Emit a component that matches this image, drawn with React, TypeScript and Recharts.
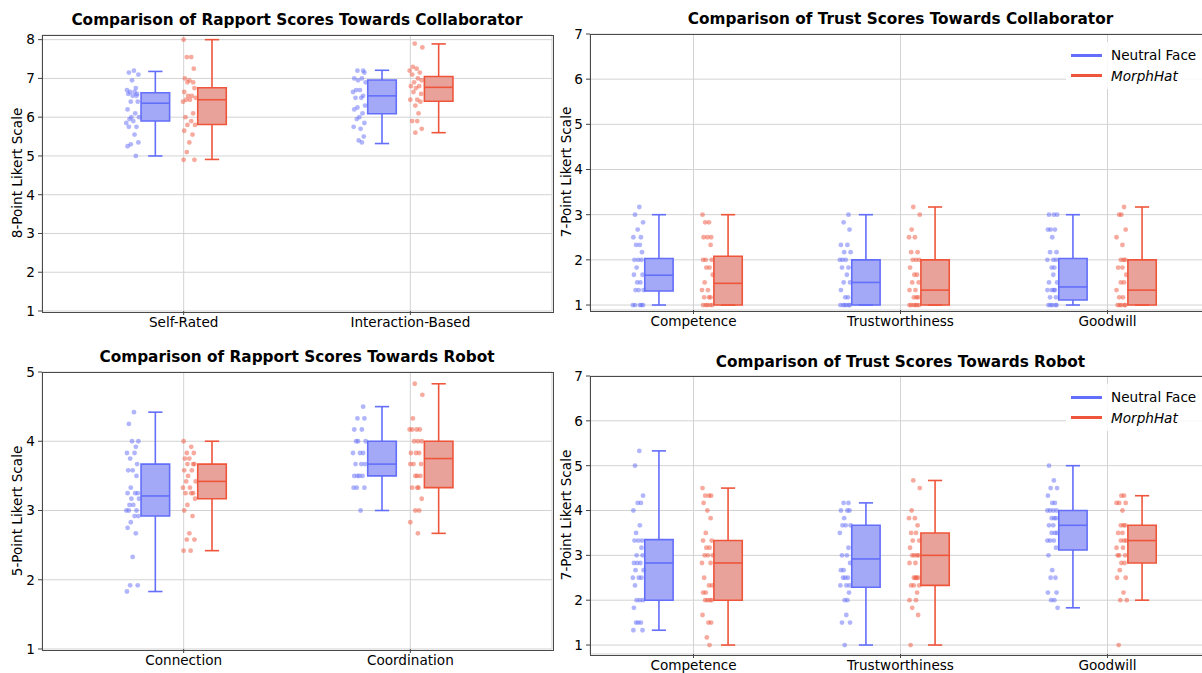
import React from "react";
import {
  ComposedChart,
  Scatter,
  XAxis,
  YAxis,
  CartesianGrid,
  ReferenceArea,
  ReferenceLine,
} from "recharts";

// categories
const rapportCollabCats = ["Self-Rated", "Interaction-Based"];
const rapportRobotCats = ["Connection", "Coordination"];
const trustCats = ["Competence", "Trustworthiness", "Goodwill"];

// y ticks
const ticks8 = [1, 2, 3, 4, 5, 6, 7, 8];
const ticks7 = [1, 2, 3, 4, 5, 6, 7];
const ticks5 = [1, 2, 3, 4, 5];

// box stats per category: [low whisker, q1, median, q3, high whisker]
const rcNeutralBox = [[5.0, 5.9, 6.36, 6.63, 7.18], [5.32, 6.09, 6.55, 6.96, 7.21]];
const rcMorphBox = [[4.91, 5.81, 6.45, 6.76, 8.0], [5.6, 6.41, 6.77, 7.05, 7.89]];
const tcNeutralBox = [[1, 1.31, 1.66, 2.03, 3], [1, 1, 1.5, 2, 3], [1, 1.11, 1.4, 2.03, 3]];
const tcMorphBox = [[1, 1, 1.48, 2.08, 3], [1, 1, 1.33, 2, 3.17], [1, 1, 1.33, 2, 3.17]];
const rrNeutralBox = [[1.83, 2.92, 3.21, 3.67, 4.42], [3.0, 3.5, 3.67, 4.0, 4.5]];
const rrMorphBox = [[2.42, 3.17, 3.42, 3.67, 4.0], [2.67, 3.33, 3.75, 4.0, 4.83]];
const trNeutralBox = [[1.33, 2.0, 2.83, 3.35, 5.33], [1.0, 2.29, 2.92, 3.67, 4.17], [1.83, 3.12, 3.67, 4.0, 5.0]];
const trMorphBox = [[1.0, 2.0, 2.83, 3.33, 4.5], [1.0, 2.33, 3.0, 3.5, 4.67], [2.0, 2.83, 3.33, 3.67, 4.33]];

// individual scores
const rcNeutralPts = [
  [7.2, 7.15, 7.1, 6.95, 6.75, 6.7, 6.65, 6.65, 6.6, 6.6, 6.55, 6.55, 6.4, 6.4, 6.2, 6.1, 6.0, 6.0, 5.95, 5.9, 5.85, 5.75, 5.75, 5.55, 5.35, 5.3, 5.25, 5.0],
  [7.2, 7.2, 7.15, 7.0, 7.0, 6.95, 6.9, 6.7, 6.7, 6.65, 6.55, 6.5, 6.5, 6.3, 6.25, 6.2, 6.1, 6.0, 5.95, 5.85, 5.75, 5.7, 5.5, 5.4, 5.35],
];
const rcMorphPts = [
  [8.0, 7.55, 7.55, 7.25, 7.0, 6.95, 6.9, 6.9, 6.75, 6.65, 6.55, 6.55, 6.5, 6.45, 6.45, 6.4, 6.1, 6.0, 5.9, 5.8, 5.8, 5.65, 5.55, 5.35, 5.1, 4.9, 4.9],
  [7.9, 7.8, 7.3, 7.25, 7.2, 7.15, 7.1, 7.0, 6.95, 6.9, 6.8, 6.8, 6.75, 6.65, 6.6, 6.45, 6.45, 6.4, 6.3, 6.1, 5.9, 5.9, 5.7, 5.6],
];
const tcNeutralPts = [
  [3.17, 3, 2.83, 2.67, 2.5, 2.5, 2.33, 2.33, 2.17, 2, 2, 2, 1.83, 1.67, 1.67, 1.5, 1.5, 1.33, 1.33, 1.33, 1, 1, 1, 1, 1],
  [3, 2.83, 2.67, 2.33, 2.33, 2.17, 2.17, 2, 2, 2, 1.83, 1.83, 1.67, 1.5, 1.5, 1.33, 1.17, 1.17, 1, 1, 1, 1, 1, 1],
  [3, 3, 3, 2.67, 2.67, 2.67, 2.5, 2.17, 2.17, 2, 2, 2, 1.83, 1.83, 1.67, 1.5, 1.5, 1.33, 1.33, 1.33, 1.33, 1.17, 1.17, 1, 1, 1, 1, 1],
];
const tcMorphPts = [
  [3, 2.83, 2.83, 2.5, 2.5, 2.5, 2.33, 2, 2, 2, 1.83, 1.83, 1.67, 1.5, 1.33, 1.33, 1.17, 1.17, 1.17, 1, 1, 1, 1, 1],
  [3.17, 3, 2.67, 2.5, 2.5, 2.17, 2.17, 2, 2, 2, 1.83, 1.67, 1.67, 1.5, 1.5, 1.33, 1.33, 1.17, 1.17, 1.17, 1, 1, 1, 1, 1, 1],
  [3.17, 3, 3, 2.67, 2.5, 2.33, 2, 2, 2, 1.83, 1.83, 1.67, 1.5, 1.5, 1.33, 1.17, 1.17, 1, 1, 1, 1, 1],
];
const rrNeutralPts = [
  [4.42, 4.25, 4, 4, 3.92, 3.83, 3.83, 3.75, 3.67, 3.58, 3.58, 3.5, 3.33, 3.25, 3.25, 3.25, 3.17, 3.17, 3.08, 3.08, 3, 3, 3, 2.92, 2.92, 2.83, 2.75, 2.67, 2.33, 1.92, 1.92, 1.83],
  [4.5, 4.33, 4.33, 4.17, 4.17, 4, 4, 4, 3.83, 3.83, 3.83, 3.67, 3.67, 3.67, 3.5, 3.5, 3.5, 3.5, 3.33, 3.33, 3.33, 3],
];
const rrMorphPts = [
  [4, 3.92, 3.83, 3.83, 3.75, 3.75, 3.67, 3.67, 3.67, 3.58, 3.58, 3.5, 3.42, 3.42, 3.33, 3.33, 3.25, 3.25, 3.25, 3.17, 3.08, 3, 2.92, 2.67, 2.58, 2.58, 2.42, 2.42],
  [4.83, 4.67, 4.33, 4.17, 4.17, 4.17, 4.17, 4, 4, 4, 3.83, 3.83, 3.83, 3.67, 3.67, 3.67, 3.5, 3.5, 3.5, 3.33, 3.33, 3.33, 3.17, 3, 3, 2.83, 2.67],
];
const trNeutralPts = [
  [5.33, 5, 4.33, 4.17, 4.17, 4, 3.67, 3.5, 3.33, 3.33, 3.33, 3.17, 3, 3, 2.83, 2.83, 2.83, 2.67, 2.67, 2.5, 2.5, 2.5, 2.33, 2, 2, 2, 1.83, 1.5, 1.5, 1.5, 1.33, 1.33],
  [4.17, 4.17, 4, 4, 4, 3.83, 3.67, 3.67, 3.67, 3.5, 3.17, 3, 3, 2.83, 2.67, 2.67, 2.5, 2.5, 2.5, 2.33, 2.33, 2.33, 2.17, 2, 2, 1.67, 1.5, 1.5, 1],
  [5, 4.67, 4.5, 4.5, 4.33, 4.17, 4.17, 4, 4, 4, 4, 3.83, 3.83, 3.83, 3.67, 3.67, 3.5, 3.5, 3.5, 3.33, 3.33, 3.33, 3.17, 3, 2.67, 2.5, 2.5, 2.17, 2.17, 2, 2, 1.83],
];
const trMorphPts = [
  [4.5, 4.33, 4.33, 4.33, 4.17, 4, 3.83, 3.5, 3.33, 3.33, 3.17, 3.17, 3, 3, 3, 2.83, 2.83, 2.5, 2.33, 2.33, 2.17, 2.17, 2, 2, 2, 2, 1.67, 1.5, 1.5, 1.17, 1],
  [4.67, 4.5, 4, 3.83, 3.83, 3.67, 3.5, 3.5, 3.33, 3.33, 3.17, 3, 3, 3, 3, 2.83, 2.83, 2.5, 2.5, 2.5, 2.5, 2.33, 2.33, 2.33, 2.17, 2, 2, 1.83, 1.67, 1],
  [4.33, 4.33, 4.17, 4.17, 4.17, 4, 3.67, 3.67, 3.67, 3.5, 3.5, 3.33, 3.33, 3.33, 3.17, 3.17, 3, 3, 3, 2.83, 2.83, 2.67, 2.5, 2.5, 2.17, 2, 2, 1],
];

// fixed horizontal spread pattern for the strip points (fraction of jitter width)
const JITTER = [0.2, -0.6, 0.9, -0.1, 0.5, -0.9, 0.3, -0.4, 0.7, -0.7, 0.0, 0.6, -0.3, 0.8, -0.8, 0.4, -0.2, 1.0, -0.5, 0.1, -1.0, 0.6, -0.6, 0.3, 0.9, -0.3, -0.8, 0.5, 0.0, -0.4, 0.8, -0.9, 0.2, 0.7, -0.1, 0.4];

const NEUTRAL = "#636EFA";
const MORPH = "#EF553B";
const NEUTRAL_FILL = "#a3a9f6";
const MORPH_FILL = "#e8a29a";
const FONT = "'DejaVu Sans', Verdana, sans-serif";
const TICK_FONT = 13.6;

type PanelProps = {
  title: string;
  ylabel: string;
  cats: string[];
  neutralBox: number[][];
  morphBox: number[][];
  neutralPts: number[][];
  morphPts: number[][];
  yDomain: [number, number];
  yTicks: number[];
  xDomain: [number, number];
  boxOffset: number;
  boxWidth: number;
  jitter: number;
  left: number;
  top: number;
  width: number;
  height: number;
  plot: [number, number, number, number]; // left, top, right, bottom (page coords)
  xAxisHeight: number;
  yAxisWidth: number;
  titleY: number;
  ylabelX: number;
  legend?: boolean;
};

function strip(sets: number[][], shift: number, jitter: number, seed: number) {
  return sets.flatMap((vals, i) =>
    vals.map((y, j) => ({ x: i + shift - 0.1 + JITTER[(j + seed + i * 11) % JITTER.length] * jitter, y }))
  );
}

function boxes(stats: number[][], shift: number, w: number, stroke: string, fill: string, key: string) {
  const half = w / 2;
  const cap = w / 4;
  const lw = 1.6;
  return stats.flatMap(([lo, q1, med, q3, hi], i) => {
    const c = i + shift;
    return [
      <ReferenceLine key={`${key}wl${i}`} segment={[{ x: c, y: lo }, { x: c, y: q1 }]} stroke={stroke} strokeWidth={lw} />,
      <ReferenceLine key={`${key}wh${i}`} segment={[{ x: c, y: q3 }, { x: c, y: hi }]} stroke={stroke} strokeWidth={lw} />,
      <ReferenceLine key={`${key}cl${i}`} segment={[{ x: c - cap, y: lo }, { x: c + cap, y: lo }]} stroke={stroke} strokeWidth={lw} />,
      <ReferenceLine key={`${key}ch${i}`} segment={[{ x: c - cap, y: hi }, { x: c + cap, y: hi }]} stroke={stroke} strokeWidth={lw} />,
      <ReferenceArea key={`${key}b${i}`} x1={c - half} x2={c + half} y1={q1} y2={q3} fill={fill} fillOpacity={1} stroke={stroke} strokeWidth={lw} />,
      <ReferenceLine key={`${key}m${i}`} segment={[{ x: c - half, y: med }, { x: c + half, y: med }]} stroke={stroke} strokeWidth={lw} />,
    ];
  });
}

const dot = (color: string) => (props: any) =>
  <circle cx={props.cx} cy={props.cy} r={2.4} fill={color} fillOpacity={0.5} />;

function Panel(p: PanelProps) {
  const [pl, pt, pr, pb] = p.plot;
  const margin = {
    left: pl - p.left - p.yAxisWidth,
    top: pt - p.top,
    right: p.left + p.width - pr,
    bottom: p.top + p.height - pb - p.xAxisHeight,
  };
  const tickStyle = { fill: "#000", fontSize: TICK_FONT, fontFamily: FONT };
  return (
    <div style={{ position: "absolute", left: p.left, top: p.top, width: p.width, height: p.height }}>
      <ComposedChart width={p.width} height={p.height} margin={margin}>
        <CartesianGrid stroke="#d3d3d3" strokeWidth={1} />
        <XAxis
          type="number"
          dataKey="x"
          domain={p.xDomain}
          allowDataOverflow
          ticks={p.cats.map((_, i) => i)}
          interval={0}
          tickFormatter={(v: number) => p.cats[v]}
          height={p.xAxisHeight}
          axisLine={false}
          tickSize={4}
          tickMargin={2}
          tickLine={{ stroke: "#444" }}
          tick={tickStyle}
        />
        <YAxis
          type="number"
          dataKey="y"
          domain={p.yDomain}
          allowDataOverflow
          ticks={p.yTicks}
          interval={0}
          width={p.yAxisWidth}
          axisLine={false}
          tickSize={4}
          tickMargin={3}
          tickLine={{ stroke: "#444" }}
          tick={tickStyle}
        />
        {boxes(p.neutralBox, -p.boxOffset, p.boxWidth, NEUTRAL, NEUTRAL_FILL, "n")}
        {boxes(p.morphBox, p.boxOffset, p.boxWidth, MORPH, MORPH_FILL, "m")}
        <Scatter data={strip(p.neutralPts, -p.boxOffset, p.jitter, 0)} shape={dot(NEUTRAL)} isAnimationActive={false} />
        <Scatter data={strip(p.morphPts, p.boxOffset, p.jitter, 5)} shape={dot(MORPH)} isAnimationActive={false} />
      </ComposedChart>
      {/* axes frame */}
      <div
        style={{
          position: "absolute",
          left: pl - p.left - 0.5,
          top: pt - p.top - 0.5,
          width: pr - pl,
          height: pb - pt,
          border: "1px solid #4a4a4a",
          pointerEvents: "none",
        }}
      />
      <div
        style={{
          position: "absolute",
          left: (pl + pr) / 2 - p.left,
          top: p.titleY - p.top,
          transform: "translate(-50%, -50%)",
          whiteSpace: "nowrap",
          fontFamily: FONT,
          fontWeight: "bold",
          fontSize: 15.3,
          color: "#000",
        }}
      >
        {p.title}
      </div>
      <div
        style={{
          position: "absolute",
          left: p.ylabelX - p.left,
          top: (pt + pb) / 2 - p.top,
          transform: "translate(-50%, -50%) rotate(-90deg)",
          whiteSpace: "nowrap",
          fontFamily: FONT,
          fontSize: TICK_FONT,
          color: "#000",
        }}
      >
        {p.ylabel}
      </div>
      {p.legend && (
        <div
          style={{
            position: "absolute",
            left: 1066 - p.left,
            top: pt - p.top + 8,
            width: 160,
            padding: "3px 0 3px 5px",
            background: "rgba(255,255,255,0.85)",
            borderRadius: 3,
            fontFamily: FONT,
            fontSize: TICK_FONT,
            color: "#000",
          }}
        >
          {[
            { c: NEUTRAL, t: "Neutral Face", i: false },
            { c: MORPH, t: "MorphHat", i: true },
          ].map((e) => (
            <div key={e.t} style={{ display: "flex", alignItems: "center", height: 20.5 }}>
              <span style={{ display: "inline-block", width: 31, height: 3, background: e.c, marginRight: 9 }} />
              <span style={{ fontStyle: e.i ? "italic" : "normal" }}>{e.t}</span>
            </div>
          ))}
        </div>
      )}
    </div>
  );
}

export default function App() {
  return (
    <div
      style={{
        position: "absolute",
        left: 0,
        top: 0,
        width: 1202,
        height: 673,
        overflow: "hidden",
        background: "#fff",
      }}
    >
      <Panel
        title="Comparison of Rapport Scores Towards Collaborator"
        ylabel="8-Point Likert Scale"
        cats={rapportCollabCats}
        neutralBox={rcNeutralBox}
        morphBox={rcMorphBox}
        neutralPts={rcNeutralPts}
        morphPts={rcMorphPts}
        yDomain={[1, 8.12]}
        yTicks={ticks8}
        xDomain={[-0.625, 1.625]}
        boxOffset={0.125}
        boxWidth={0.126}
        jitter={0.028}
        left={0}
        top={0}
        width={600}
        height={340}
        plot={[42, 35, 552, 311]}
        xAxisHeight={24}
        yAxisWidth={36}
        titleY={19.5}
        ylabelX={17}
      />
      <Panel
        title="Comparison of Trust Scores Towards Collaborator"
        ylabel="7-Point Likert Scale"
        cats={trustCats}
        neutralBox={tcNeutralBox}
        morphBox={tcMorphBox}
        neutralPts={tcNeutralPts}
        morphPts={tcMorphPts}
        yDomain={[0.89, 7]}
        yTicks={ticks7}
        xDomain={[-0.5, 2.5]}
        boxOffset={0.167}
        boxWidth={0.137}
        jitter={0.026}
        left={560}
        top={0}
        width={660}
        height={340}
        plot={[590, 34, 1211, 310]}
        xAxisHeight={24}
        yAxisWidth={30}
        titleY={18.5}
        ylabelX={566}
        legend
      />
      <Panel
        title="Comparison of Rapport Scores Towards Robot"
        ylabel="5-Point Likert Scale"
        cats={rapportRobotCats}
        neutralBox={rrNeutralBox}
        morphBox={rrMorphBox}
        neutralPts={rrNeutralPts}
        morphPts={rrMorphPts}
        yDomain={[1, 5]}
        yTicks={ticks5}
        xDomain={[-0.625, 1.625]}
        boxOffset={0.125}
        boxWidth={0.126}
        jitter={0.028}
        left={0}
        top={340}
        width={600}
        height={333}
        plot={[42, 372, 552, 649]}
        xAxisHeight={24}
        yAxisWidth={36}
        titleY={357}
        ylabelX={17}
      />
      <Panel
        title="Comparison of Trust Scores Towards Robot"
        ylabel="7-Point Likert Scale"
        cats={trustCats}
        neutralBox={trNeutralBox}
        morphBox={trMorphBox}
        neutralPts={trNeutralPts}
        morphPts={trMorphPts}
        yDomain={[0.8, 7]}
        yTicks={ticks7}
        xDomain={[-0.5, 2.5]}
        boxOffset={0.167}
        boxWidth={0.137}
        jitter={0.026}
        left={560}
        top={340}
        width={660}
        height={333}
        plot={[590, 376, 1211, 654]}
        xAxisHeight={19}
        yAxisWidth={30}
        titleY={362}
        ylabelX={566}
        legend
      />
    </div>
  );
}
